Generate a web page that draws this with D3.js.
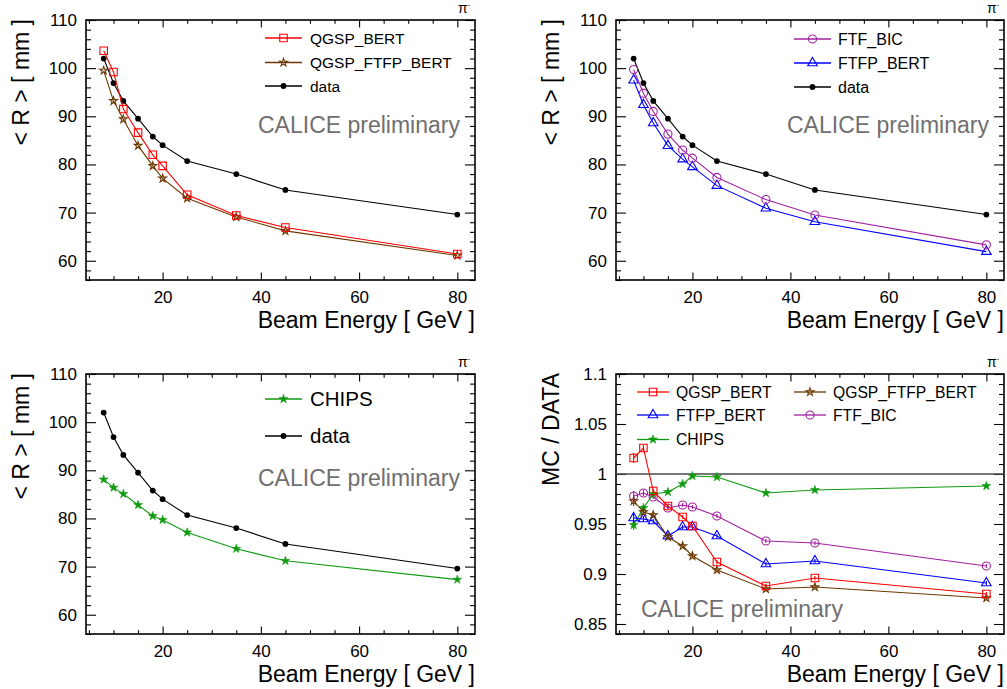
<!DOCTYPE html>
<html>
<head>
<meta charset="utf-8">
<script src="https://cdn.jsdelivr.net/npm/d3@7"></script>
<style>
  body { margin: 0; background: #fff; }
  svg { display: block; }
  text { font-family: "Liberation Sans", Arial, Helvetica, sans-serif; fill: #000; }
</style>
</head>
<body>
<svg id="chart" width="1007" height="689"></svg>
<script>
// Beam energies of the pion runs [GeV]
const energies = [8, 10, 12, 15, 18, 20, 25, 35, 45, 80];

// Mean shower radius <R> [mm]
const dataR        = [102.0, 96.9, 93.2, 89.5, 85.8, 84.0, 80.7, 78.0, 74.7, 69.6];
const qgspBertR    = [103.6, 99.2, 91.5, 86.6, 82.0, 79.7, 73.7, 69.4, 66.9, 61.4];
const qgspFtfpR    = [99.5, 93.2, 89.4, 83.9, 79.7, 77.1, 73.0, 69.1, 66.2, 61.1];
const ftfBicR      = [99.7, 94.8, 91.0, 86.3, 83.0, 81.3, 77.3, 72.7, 69.5, 63.3];
const ftfpBertR    = [97.5, 92.4, 88.6, 83.9, 81.1, 79.5, 75.6, 70.9, 68.1, 61.9];
const chipsR       = [88.1, 86.4, 85.1, 82.8, 80.5, 79.7, 77.1, 73.7, 71.2, 67.3];

// MC / data ratios
const qgspBertRatio = [1.016, 1.026, 0.983, 0.968, 0.957, 0.948, 0.912, 0.888, 0.896, 0.880];
const qgspFtfpRatio = [0.973, 0.962, 0.959, 0.937, 0.928, 0.918, 0.904, 0.885, 0.887, 0.876];
const ftfpBertRatio = [0.956, 0.955, 0.953, 0.938, 0.947, 0.947, 0.938, 0.910, 0.913, 0.891];
const ftfBicRatio   = [0.978, 0.981, 0.977, 0.966, 0.969, 0.967, 0.958, 0.933, 0.931, 0.908];
const chipsRatio    = [0.949, 0.966, 0.980, 0.982, 0.990, 0.998, 0.997, 0.981, 0.984, 0.988];
const ratioErr      = [0.005, 0.003, 0.002, 0.002, 0.002, 0.002, 0.002, 0.002, 0.002, 0.002];

// Axis ticks and labels
const xTicks = [20, 40, 60, 80];
const rTicks = [60, 70, 80, 90, 100, 110];
const ratioTicks = [0.85, 0.9, 0.95, 1, 1.05, 1.1];
const ratioTickLabels = ["0.85", "0.9", "0.95", "1", "1.05", "1.1"];

const xTitle = "Beam Energy [ GeV ]";
const rTitle = "< R >  [ mm ]";
const ratioTitle = "MC / DATA";
const stamp = "CALICE preliminary";

// Series styles
const STY = {
  data:     { name: "data",           color: "#000000", sym: "dot" },
  qgsp:     { name: "QGSP_BERT",      color: "#ff0000", sym: "square" },
  qgspftfp: { name: "QGSP_FTFP_BERT", color: "#6b3800", sym: "ostar" },
  ftfbic:   { name: "FTF_BIC",        color: "#a020a0", sym: "circle" },
  ftfp:     { name: "FTFP_BERT",      color: "#0000ff", sym: "triangle" },
  chips:    { name: "CHIPS",          color: "#109a10", sym: "fstar" }
};

const svg = d3.select("#chart");
const xDomain = [4.4, 83.6];

function drawMarker(g, kind, color, cx, cy) {
  let path, fill = "none", sw = 1.1;
  if (kind === "dot") { path = d3.symbol(d3.symbolCircle, 26)(); fill = color; sw = 0; }
  else if (kind === "square") path = d3.symbol(d3.symbolSquare, 56)();
  else if (kind === "circle") path = d3.symbol(d3.symbolCircle, 52)();
  else if (kind === "triangle") path = d3.symbol(d3.symbolTriangle, 40)();
  else if (kind === "ostar") path = d3.symbol(d3.symbolStar, 19)();
  else if (kind === "fstar") { path = d3.symbol(d3.symbolStar, 24)(); fill = color; sw = 0.6; }
  g.append("path")
    .attr("d", path)
    .attr("transform", `translate(${cx},${cy})`)
    .attr("fill", fill)
    .attr("stroke", color)
    .attr("stroke-width", sw);
}

function panel(p) {
  const g = svg.append("g");
  const x = d3.scaleLinear().domain(xDomain).range([p.left, p.right]);
  const y = d3.scaleLinear().domain(p.yDomain).range([p.bottom, p.top]);
  const w = p.right - p.left, h = p.bottom - p.top;

  const xMinor = d3.range(5, 84, 5).filter(v => !xTicks.includes(v));
  const yMinor = d3.range(p.yMinor[0], p.yMinor[1] + 1e-9, p.yMinor[2])
    .map(v => +v.toFixed(4)).filter(v => !p.yTicks.some(t => Math.abs(t - v) < 1e-6));

  // bottom axis with labels
  const xa = g.append("g").attr("transform", `translate(0,${p.bottom})`)
    .call(d3.axisBottom(x).tickValues(xTicks).tickSize(-7.5).tickPadding(11).tickFormat(d3.format("d")));
  const xm = g.append("g").attr("transform", `translate(0,${p.bottom})`)
    .call(d3.axisBottom(x).tickValues(xMinor).tickSize(-3.8).tickFormat(""));
  // top mirrored ticks
  const xt = g.append("g").attr("transform", `translate(0,${p.top})`)
    .call(d3.axisTop(x).tickValues(xTicks).tickSize(-7.5).tickFormat(""));
  const xtm = g.append("g").attr("transform", `translate(0,${p.top})`)
    .call(d3.axisTop(x).tickValues(xMinor).tickSize(-3.8).tickFormat(""));
  // left axis with labels
  const ya = g.append("g").attr("transform", `translate(${p.left},0)`)
    .call(d3.axisLeft(y).tickValues(p.yTicks).tickSize(-10).tickPadding(9)
      .tickFormat((d, i) => p.yLabels[i]));
  const ym = g.append("g").attr("transform", `translate(${p.left},0)`)
    .call(d3.axisLeft(y).tickValues(yMinor).tickSize(-5).tickFormat(""));
  // right mirrored ticks
  const yr = g.append("g").attr("transform", `translate(${p.right},0)`)
    .call(d3.axisRight(y).tickValues(p.yTicks).tickSize(-10).tickFormat(""));
  const yrm = g.append("g").attr("transform", `translate(${p.right},0)`)
    .call(d3.axisRight(y).tickValues(yMinor).tickSize(-5).tickFormat(""));

  [xa, xm, xt, xtm, ya, ym, yr, yrm].forEach(a => {
    a.select(".domain").remove();
    a.selectAll("line").attr("stroke", "#000").attr("stroke-width", 1.1);
    a.selectAll("text").attr("font-size", 17).attr("fill", "#000")
      .style("font-family", '"Liberation Sans", Arial, Helvetica, sans-serif');
  });

  // frame
  g.append("rect").attr("x", p.left).attr("y", p.top).attr("width", w).attr("height", h)
    .attr("fill", "none").attr("stroke", "#000").attr("stroke-width", 1.6);

  // axis titles
  g.append("text").attr("x", p.right).attr("y", p.bottom + 48)
    .attr("text-anchor", "end").attr("font-size", 23).text(xTitle);
  g.append("text")
    .attr("transform", `translate(${p.left - 57},${p.top - 1}) rotate(-90)`)
    .attr("text-anchor", "end").attr("font-size", 23).text(p.yTitle);

  // particle tag
  const pt = g.append("text").attr("x", p.right - 17).attr("y", p.top - 7)
    .attr("font-size", 14).text("π");
  pt.append("tspan").attr("dy", -6).attr("font-size", 7).text("-");

  // reference line at unity
  if (p.unity) {
    g.append("line").attr("x1", p.left).attr("x2", p.right)
      .attr("y1", y(1)).attr("y2", y(1))
      .attr("stroke", "#4a4a4a").attr("stroke-width", 1.6);
  }

  // preliminary stamp
  g.append("text").attr("x", p.stamp[0]).attr("y", p.stamp[1])
    .attr("font-size", 23).style("fill", "#707070").text(stamp);

  // series
  const line = d3.line().x(d => x(d[0])).y(d => y(d[1]));
  p.series.forEach(s => {
    const st = STY[s.key];
    const pts = energies.map((e, i) => [e, s.values[i]]);
    g.append("path").datum(pts).attr("d", line)
      .attr("fill", "none").attr("stroke", st.color).attr("stroke-width", 1.1);
    if (s.err) {
      pts.forEach((d, i) => {
        g.append("line").attr("x1", x(d[0])).attr("x2", x(d[0]))
          .attr("y1", y(d[1] - s.err[i])).attr("y2", y(d[1] + s.err[i]))
          .attr("stroke", st.color).attr("stroke-width", 1.1);
      });
    }
    pts.forEach(d => drawMarker(g, st.sym, st.color, x(d[0]), y(d[1])));
  });

  // legend
  p.legend.forEach(L => {
    const st = STY[L.key];
    g.append("line").attr("x1", L.x).attr("x2", L.x + L.len).attr("y1", L.y).attr("y2", L.y)
      .attr("stroke", st.color).attr("stroke-width", 1.3);
    drawMarker(g, st.sym, st.color, L.x + L.len / 2, L.y);
    g.append("text").attr("x", L.x + L.len + L.gap).attr("y", L.y).attr("dy", "0.36em")
      .attr("font-size", L.fs).text(st.name);
  });
}

const rMinor = [56, 110, 2];

// top-left: QGSP variants vs data
panel({
  left: 86, right: 475, top: 20, bottom: 280,
  yDomain: [56, 110], yTicks: rTicks, yLabels: rTicks.map(String), yMinor: rMinor,
  yTitle: rTitle, stamp: [258, 133],
  series: [
    { key: "data", values: dataR },
    { key: "qgspftfp", values: qgspFtfpR },
    { key: "qgsp", values: qgspBertR }
  ],
  legend: [
    { key: "qgsp", x: 265, y: 38, len: 37, gap: 8, fs: 15.5 },
    { key: "qgspftfp", x: 265, y: 62.5, len: 37, gap: 8, fs: 15.5 },
    { key: "data", x: 265, y: 86, len: 37, gap: 8, fs: 15.5 }
  ]
});

// top-right: FTF variants vs data
panel({
  left: 616, right: 1004, top: 20, bottom: 280,
  yDomain: [56, 110], yTicks: rTicks, yLabels: rTicks.map(String), yMinor: rMinor,
  yTitle: rTitle, stamp: [787, 133],
  series: [
    { key: "data", values: dataR },
    { key: "ftfp", values: ftfpBertR },
    { key: "ftfbic", values: ftfBicR }
  ],
  legend: [
    { key: "ftfbic", x: 794, y: 39, len: 37, gap: 7, fs: 16 },
    { key: "ftfp", x: 794, y: 63, len: 37, gap: 7, fs: 16 },
    { key: "data", x: 794, y: 87, len: 37, gap: 7, fs: 16 }
  ]
});

// bottom-left: CHIPS vs data
panel({
  left: 86, right: 475, top: 374, bottom: 634,
  yDomain: [56, 110], yTicks: rTicks, yLabels: rTicks.map(String), yMinor: rMinor,
  yTitle: rTitle, stamp: [258, 486],
  series: [
    { key: "data", values: dataR },
    { key: "chips", values: chipsR }
  ],
  legend: [
    { key: "chips", x: 265, y: 399, len: 37, gap: 8, fs: 20.5 },
    { key: "data", x: 265, y: 436, len: 37, gap: 8, fs: 20.5 }
  ]
});

// bottom-right: MC / data ratios
panel({
  left: 616, right: 1004, top: 374, bottom: 634,
  yDomain: [0.84, 1.1], yTicks: ratioTicks, yLabels: ratioTickLabels, yMinor: [0.84, 1.1, 0.01],
  yTitle: ratioTitle, stamp: [641, 617], unity: true,
  series: [
    { key: "ftfbic", values: ftfBicRatio, err: ratioErr },
    { key: "chips", values: chipsRatio, err: ratioErr },
    { key: "ftfp", values: ftfpBertRatio, err: ratioErr },
    { key: "qgspftfp", values: qgspFtfpRatio, err: ratioErr },
    { key: "qgsp", values: qgspBertRatio, err: ratioErr }
  ],
  legend: [
    { key: "qgsp", x: 637, y: 392, len: 32, gap: 7, fs: 15.7 },
    { key: "qgspftfp", x: 794, y: 392, len: 32, gap: 7, fs: 15.7 },
    { key: "ftfp", x: 637, y: 415, len: 32, gap: 7, fs: 15.7 },
    { key: "ftfbic", x: 794, y: 415, len: 32, gap: 7, fs: 15.7 },
    { key: "chips", x: 637, y: 439.5, len: 32, gap: 7, fs: 15.7 }
  ]
});
</script>
</body>
</html>
